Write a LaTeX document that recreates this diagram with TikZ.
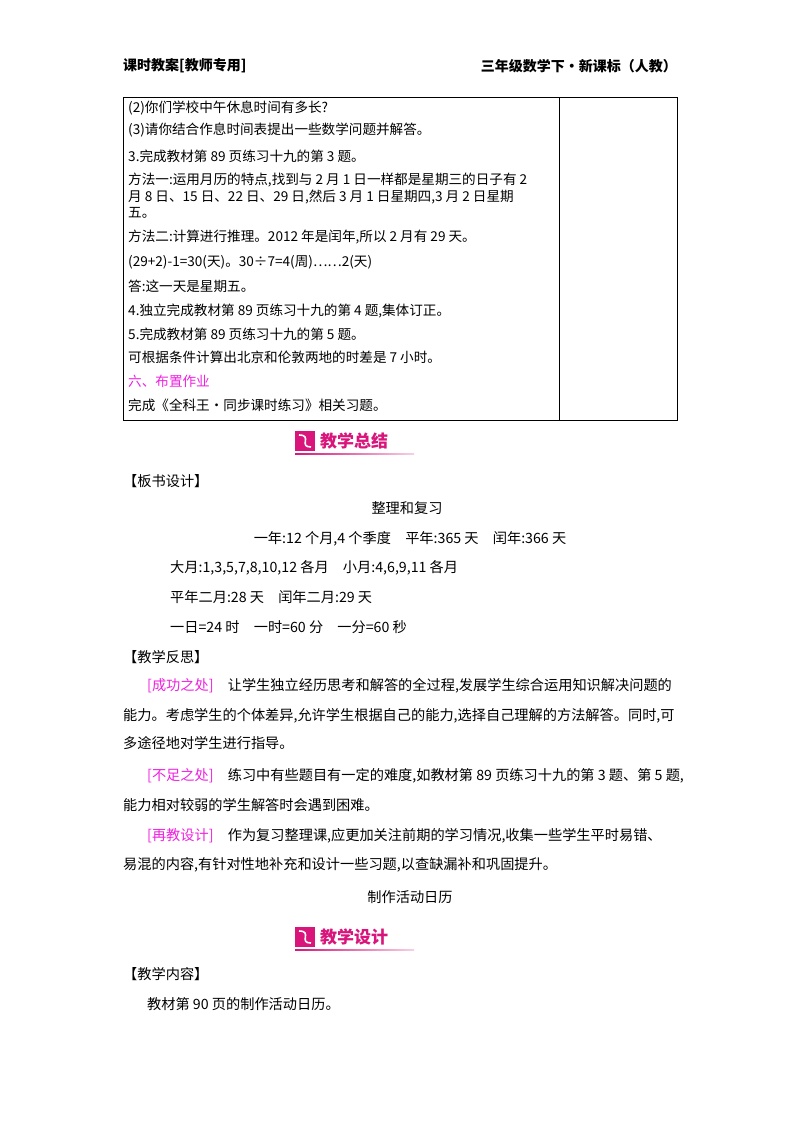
\documentclass[tikz,border=0pt]{standalone}
\usepackage{fontspec}
\setmainfont{Noto Sans CJK SC}
\definecolor{mag}{HTML}{D9157B}
\definecolor{pink}{HTML}{F020E0}
\begin{document}
\begin{tikzpicture}[x=1pt,y=-1pt,
 t/.style={anchor=west,inner sep=0pt,font=\fontsize{13.6}{15}\selectfont},
 b/.style={anchor=west,inner sep=0pt,font=\fontsize{14.2}{16}\selectfont},
 bc/.style={inner sep=0pt,font=\fontsize{14.2}{16}\selectfont},
 badge/.style={inner sep=0pt,text=mag,font=\fontsize{17}{19}\selectfont\bfseries}]
\useasboundingbox (0,0) rectangle (800,1132);
\node[b,font=\fontsize{14}{16}\selectfont\bfseries] (h1) at (123,66) {课时教案[教师专用]};
\node[b,font=\fontsize{14}{16}\selectfont\bfseries,anchor=east] (h2) at (677,66) {三年级数学下·新课标（人教）};
\draw[line width=1pt] (123,97) rectangle (677,420);
\draw[line width=1pt] (559,97) -- (559,420);
\node[t] at (128,108) {(2)你们学校中午休息时间有多长?};
\node[t] at (128,130) {(3)请你结合作息时间表提出一些数学问题并解答。};
\node[t] at (128,156) {3.完成教材第 89 页练习十九的第 3 题。};
\node[t] at (128,180) {方法一:运用月历的特点,找到与 2 月 1 日一样都是星期三的日子有 2};
\node[t] at (128,197) {月 8 日、15 日、22 日、29 日,然后 3 月 1 日星期四,3 月 2 日星期};
\node[t] at (128,213) {五。};
\node[t] at (128,237) {方法二:计算进行推理。2012 年是闰年,所以 2 月有 29 天。};
\node[t] at (128,262) {(29+2)-1=30(天)。30÷7=4(周)……2(天)};
\node[t] at (128,286) {答:这一天是星期五。};
\node[t] at (128,311) {4.独立完成教材第 89 页练习十九的第 4 题,集体订正。};
\node[t] at (128,334) {5.完成教材第 89 页练习十九的第 5 题。};
\node[t] at (128,357) {可根据条件计算出北京和伦敦两地的时差是 7 小时。};
\node[t,text=pink] at (128,381) {六、布置作业};
\node[t] at (128,405) {完成《全科王·同步课时练习》相关习题。};
% badge 1
\fill[mag] (295,431) rectangle (315,451);
\draw[white,line width=1.6pt] (299,435) .. controls (313,435) and (298,447) .. (311,447);
\node[badge,anchor=west] (b1) at (320,441) {教学总结};
\shade[left color=mag,right color=mag!20] (295,453) rectangle (414,454.5);
\node[b] at (123,481) {【板书设计】};
\node[bc] at (407,508) {整理和复习};
\node[bc] at (410,539) {一年:12 个月,4 个季度\quad 平年:365 天\quad 闰年:366 天};
\node[b] at (170,568) {大月:1,3,5,7,8,10,12 各月\quad 小月:4,6,9,11 各月};
\node[b] at (170,597) {平年二月:28 天\quad 闰年二月:29 天};
\node[b] at (170,627) {一日=24 时\quad 一时=60 分\quad 一分=60 秒};
\node[b] at (123,657) {【教学反思】};
\node[b] at (147,686) {\textcolor{pink}{[成功之处]}\quad 让学生独立经历思考和解答的全过程,发展学生综合运用知识解决问题的};
\node[b] at (123,716) {能力。考虑学生的个体差异,允许学生根据自己的能力,选择自己理解的方法解答。同时,可};
\node[b] at (123,743) {多途径地对学生进行指导。};
\node[b] at (147,776) {\textcolor{pink}{[不足之处]}\quad 练习中有些题目有一定的难度,如教材第 89 页练习十九的第 3 题、第 5 题,};
\node[b] at (123,805) {能力相对较弱的学生解答时会遇到困难。};
\node[b] at (147,836) {\textcolor{pink}{[再教设计]}\quad 作为复习整理课,应更加关注前期的学习情况,收集一些学生平时易错、};
\node[b] at (123,865) {易混的内容,有针对性地补充和设计一些习题,以查缺漏补和巩固提升。};
\node[bc] at (410,897) {制作活动日历};
% badge 2
\fill[mag] (295,927) rectangle (315,947);
\draw[white,line width=1.6pt] (299,931) .. controls (313,931) and (298,943) .. (311,943);
\node[badge,anchor=west] (b2) at (320,937) {教学设计};
\shade[left color=mag,right color=mag!20] (295,949) rectangle (414,950.5);
\node[b] at (123,974) {【教学内容】};
\node[b] at (147,1004) {教材第 90 页的制作活动日历。};
\end{tikzpicture}
\end{document}
